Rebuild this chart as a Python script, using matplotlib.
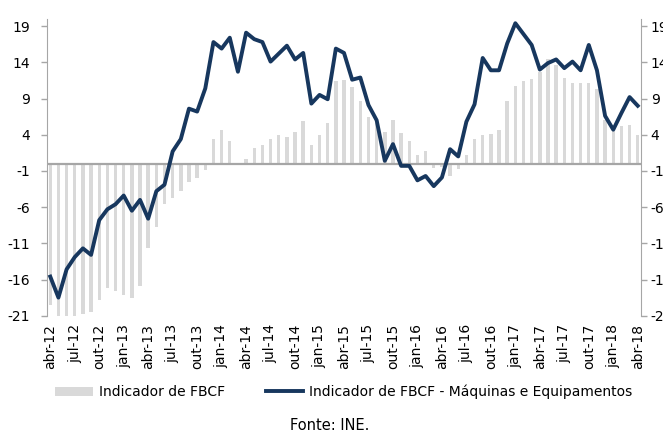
import matplotlib.pyplot as plt
import numpy as np
from matplotlib.lines import Line2D
from matplotlib.patches import Patch

plt.rcParams['font.family'] = ['DejaVu Sans']
plt.rcParams['axes.unicode_minus'] = False

# rótulos do eixo x (trimestrais), dados mensais abr-12 .. abr-18
tick_labels = ['abr-12', 'jul-12', 'out-12', 'jan-13', 'abr-13', 'jul-13', 'out-13',
               'jan-14', 'abr-14', 'jul-14', 'out-14', 'jan-15', 'abr-15', 'jul-15',
               'out-15', 'jan-16', 'abr-16', 'jul-16', 'out-16', 'jan-17', 'abr-17',
               'jul-17', 'out-17', 'jan-18', 'abr-18']

fbcf = [-19.5, -21.5, -21.5, -21.5, -20.8, -20.5, -18.8, -17.2, -17.6, -18.2, -18.6, -16.9,
        -11.6, -8.8, -5.6, -4.7, -3.8, -2.5, -2.0, -0.9, 3.4, 4.6, 3.2, 0.0,
        0.6, 2.1, 2.6, 3.4, 3.9, 3.7, 4.4, 5.9, 2.6, 4.0, 5.6, 11.4,
        11.6, 10.6, 8.7, 6.5, 5.6, 4.4, 6.1, 4.2, 3.1, 1.2, 1.7, -0.6,
        -0.4, -1.7, -0.8, 1.2, 3.4, 4.0, 4.1, 4.6, 8.7, 10.7, 11.4, 11.7,
        12.6, 14.4, 13.7, 11.8, 11.2, 11.1, 11.2, 10.3, 6.0, 4.5, 5.2, 5.3, 3.9]

maquinas = [-15.6, -18.5, -14.6, -12.9, -11.7, -12.6, -7.8, -6.3, -5.6, -4.4, -6.5, -5.0,
            -7.6, -3.8, -2.9, 1.7, 3.4, 7.6, 7.2, 10.4, 16.8, 15.9, 17.4, 12.7,
            18.1, 17.2, 16.8, 14.1, 15.2, 16.3, 14.4, 15.3, 8.3, 9.5, 8.9, 15.9,
            15.3, 11.6, 11.9, 8.1, 6.0, 0.4, 2.7, -0.3, -0.3, -2.3, -1.7, -3.1,
            -1.9, 2.0, 1.0, 5.8, 8.2, 14.6, 12.9, 12.9, 16.6, 19.4, 17.9, 16.4,
            13.0, 13.9, 14.4, 13.2, 14.1, 12.9, 16.4, 12.9, 6.6, 4.7, 7.0, 9.2, 8.0]

y_ticks = [19, 14, 9, 4, -1, -6, -11, -16, -21]

x = np.arange(len(fbcf))
axis_grey = '#a6a6a6'
navy = '#17375e'

fig = plt.figure(figsize=(6.63, 4.33), dpi=100)
ax = fig.add_axes([47 / 663, 1 - 315.7 / 433, 594 / 663, 296.8 / 433])

ax.bar(x, fbcf, width=0.42, color='#d9d9d9', zorder=1)
ax.axhline(0, color=axis_grey, lw=1.6, zorder=2)
ax.plot(x, maquinas, color=navy, lw=2.8, zorder=3)

ax.set_xlim(-0.4, len(x) - 0.6)
ax.set_ylim(-21, 20)
ax.set_xticks(x[::3])
ax.set_xticklabels(tick_labels, rotation=90, fontsize=10)
ax.tick_params(axis='x', length=0, pad=6)
ax.set_yticks(y_ticks)
ax.set_yticklabels([str(v) for v in y_ticks], fontsize=10)
ax.tick_params(axis='y', length=4, width=1, color=axis_grey, pad=8)

for s in ['top', 'bottom', 'right']:
    ax.spines[s].set_visible(False)
ax.spines['left'].set_color(axis_grey)

ax2 = ax.twinx()
ax2.set_ylim(-21, 20)
ax2.set_yticks(y_ticks)
ax2.set_yticklabels([str(v) for v in y_ticks], fontsize=10)
ax2.tick_params(axis='y', length=4, width=1, color=axis_grey, pad=3)
for s in ['top', 'bottom', 'left']:
    ax2.spines[s].set_visible(False)
ax2.spines['right'].set_color(axis_grey)

handles = [Patch(facecolor='#d9d9d9', edgecolor='none'),
           Line2D([], [], color=navy, lw=2.8)]
fig.legend(handles, ['Indicador de FBCF', 'Indicador de FBCF - Máquinas e Equipamentos'],
           loc='center', bbox_to_anchor=(344 / 663, 1 - 392 / 433), ncol=2,
           frameon=False, fontsize=10, handlelength=2.7, handletextpad=0.45,
           columnspacing=2.9)

fig.text(330 / 663, 1 - 425 / 433, 'Fonte: INE.', ha='center', va='center', fontsize=10.5)

fig.savefig('out.png', dpi=100)
